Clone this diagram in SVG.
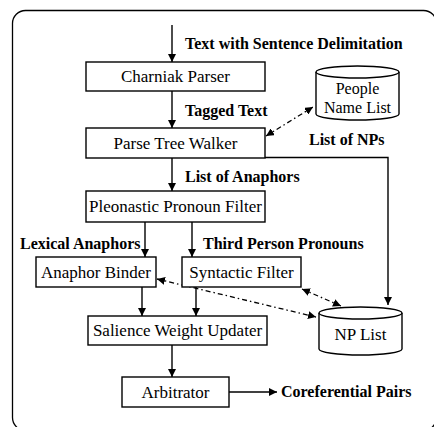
<svg xmlns="http://www.w3.org/2000/svg" width="434" height="427" viewBox="0 0 434 427">
<style>
  .box{fill:#fff;stroke:#000;stroke-width:1.4}
  .t{font-family:"Liberation Serif","Times New Roman",serif;font-size:17px;fill:#000;text-anchor:middle}
  .ts{font-size:16px}
  .lb{font-family:"Liberation Serif","Times New Roman",serif;font-size:16px;font-weight:bold;fill:#000}
  .ln{fill:none;stroke:#000;stroke-width:1.4}
  .dd{fill:none;stroke:#000;stroke-width:1.3;stroke-dasharray:5,3,1.5,3}
</style>
<defs>
  <marker id="ah" viewBox="0 0 10 10" refX="10" refY="5" markerWidth="8" markerHeight="8" markerUnits="userSpaceOnUse" orient="auto-start-reverse">
    <path d="M0,0 L10,5 L0,10 z" fill="#000"/>
  </marker>
</defs>
<rect x="12.5" y="10.5" width="424" height="420" rx="13" ry="13" fill="none" stroke="#000" stroke-width="1.3"/>
<g id="connectors">
  <line class="ln" x1="172" y1="25" x2="172" y2="62" marker-end="url(#ah)"/>
  <line class="ln" x1="172" y1="91" x2="172" y2="128" marker-end="url(#ah)"/>
  <line class="ln" x1="172" y1="158" x2="172" y2="191" marker-end="url(#ah)"/>
  <line class="ln" x1="145" y1="222" x2="145" y2="257" marker-end="url(#ah)"/>
  <line class="ln" x1="192" y1="222" x2="192" y2="257" marker-end="url(#ah)"/>
  <line class="ln" x1="142" y1="287" x2="142" y2="316" marker-end="url(#ah)"/>
  <line class="ln" x1="196" y1="287" x2="196" y2="316" marker-end="url(#ah)"/>
  <line class="ln" x1="172" y1="345" x2="172" y2="377" marker-end="url(#ah)"/>
  <line class="ln" x1="229" y1="392" x2="277" y2="392" marker-end="url(#ah)"/>
  <polyline class="ln" points="265,157.5 388,157.5 388,305" marker-end="url(#ah)"/>
  <line class="dd" x1="266" y1="136" x2="313" y2="107" marker-start="url(#ah)" marker-end="url(#ah)"/>
  <line class="dd" x1="157" y1="279" x2="316" y2="317" marker-start="url(#ah)" marker-end="url(#ah)"/>
  <line class="dd" x1="302" y1="289" x2="341" y2="306" marker-start="url(#ah)" marker-end="url(#ah)"/>
</g>
<g id="lbl-input"><text class="lb" x="185" y="49">Text with Sentence Delimitation</text></g>
<g id="n-charniak"><rect class="box" x="86" y="62" width="179" height="29"/><text class="t" x="175.5" y="82">Charniak Parser</text></g>
<g id="lbl-tagged"><text class="lb" x="185" y="116">Tagged Text</text></g>
<g id="n-ptw"><rect class="box" x="86" y="128" width="179" height="30"/><text class="t" x="175.5" y="149">Parse Tree Walker</text></g>
<g id="n-people"><path class="box" d="M316,72 L316,114 A41.5,6 0 0 0 399,114 L399,72"/><ellipse class="box" cx="357.5" cy="72" rx="41.5" ry="6"/><text class="t ts" x="357.5" y="94">People</text><text class="t ts" x="357.5" y="113">Name List</text></g>
<g id="lbl-nps"><text class="lb" x="309" y="145">List of NPs</text></g>
<g id="lbl-anaph"><text class="lb" x="185" y="182">List of Anaphors</text></g>
<g id="n-pleo"><rect class="box" x="86" y="191" width="179" height="31"/><text class="t" x="175.5" y="212">Pleonastic Pronoun Filter</text></g>
<g id="lbl-lex"><text class="lb" x="20" y="249">Lexical Anaphors</text></g>
<g id="lbl-third"><text class="lb" x="203" y="249">Third Person Pronouns</text></g>
<g id="n-binder"><rect class="box" x="36" y="257" width="120" height="30"/><text class="t" x="96" y="278">Anaphor Binder</text></g>
<g id="n-synt"><rect class="box" x="182" y="257" width="119" height="30"/><text class="t" x="241.5" y="278">Syntactic Filter</text></g>
<g id="n-npl"><path class="box" d="M319,313 L319,349 A41.5,6 0 0 0 402,349 L402,313"/><ellipse class="box" cx="360.5" cy="313" rx="41.5" ry="6"/><text class="t" x="360.5" y="340">NP List</text></g>
<g id="n-sal"><rect class="box" x="88" y="316" width="179" height="29"/><text class="t" x="177.5" y="336">Salience Weight Updater</text></g>
<g id="n-arb"><rect class="box" x="122" y="377" width="107" height="30"/><text class="t" x="175.5" y="398">Arbitrator</text></g>
<g id="lbl-coref"><text class="lb" x="281" y="397">Coreferential Pairs</text></g>
</svg>
